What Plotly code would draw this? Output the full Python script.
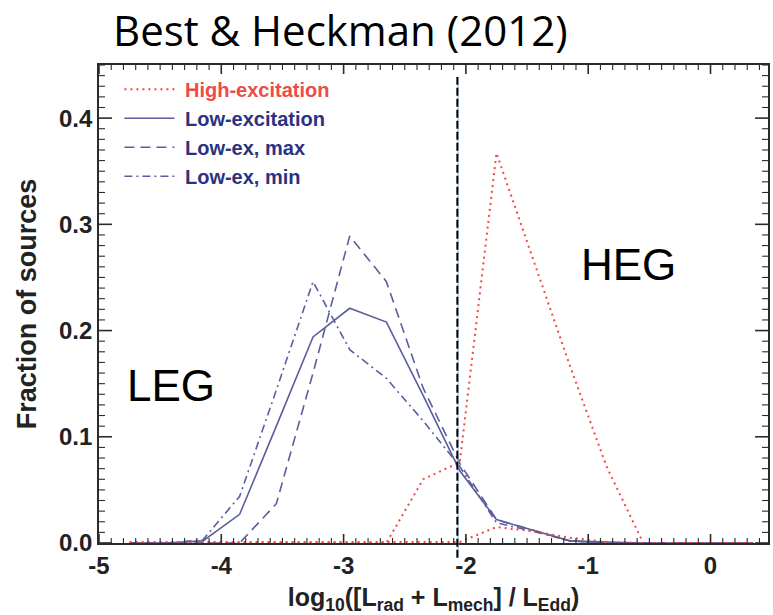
import plotly.graph_objects as go

# Bin centres of the Eddington-scaled luminosity histogram
log_edd = [-4.75, -4.45, -4.15, -3.85, -3.55, -3.25, -2.95, -2.65, -2.35,
           -2.05, -1.75, -1.45, -1.15, -0.85, -0.55, -0.25, 0.05, 0.35]

# Fraction of sources per bin
high_exc = [0.0, 0.0, 0.0, 0.0, 0.0, 0.0, 0.0, 0.0, 0.060,
            0.076, 0.367, 0.267, 0.167, 0.072, 0.0, 0.0, 0.0, 0.0]
high_exc_faint = [0.001, 0.001, 0.001, 0.001, 0.001, 0.001, 0.001, 0.001, 0.001,
                  0.001, 0.015, 0.011, 0.005, 0.001, 0.0, 0.0, 0.0, 0.0]
low_exc = [0.0, 0.0, 0.002, 0.027, 0.110, 0.194, 0.221, 0.208, 0.139,
           0.068, 0.022, 0.012, 0.002, 0.001, 0.0, 0.0, 0.0, 0.0]
low_exc_max = [0.0, 0.0, 0.0, 0.0, 0.037, 0.160, 0.289, 0.246, 0.146,
               0.075, 0.022, 0.012, 0.002, 0.0, 0.0, 0.0, 0.0, 0.0]
low_exc_min = [0.0, 0.0, 0.003, 0.044, 0.144, 0.246, 0.182, 0.155, 0.115,
               0.072, 0.019, 0.011, 0.002, 0.0, 0.0, 0.0, 0.0, 0.0]

divide_x = -2.07

x_range = [-5, 0.47]
y_range = [0, 0.45]
x_ticks = [-5, -4, -3, -2, -1, 0]
x_tick_text = ["<b>-5</b>", "<b>-4</b>", "<b>-3</b>", "<b>-2</b>", "<b>-1</b>", "<b>0</b>"]
y_ticks = [0.0, 0.1, 0.2, 0.3, 0.4]
y_tick_text = ["<b>0.0</b>", "<b>0.1</b>", "<b>0.2</b>", "<b>0.3</b>", "<b>0.4</b>"]
x_minor_step = 0.1
y_minor_step = 0.01

RED = "#ee4b46"
BLUE = "#5a5e9c"
NAVY = "#2c3282"
AXIS = "#2a2a2a"
SANS = "Liberation Sans, Arial, Helvetica"

W, H = 773, 615
M = dict(l=99, r=3, t=65, b=72)
PW = W - M["l"] - M["r"]
PH = H - M["t"] - M["b"]

legend_names = [("High-excitation", RED), ("Low-excitation", NAVY),
                ("Low-ex, max", NAVY), ("Low-ex, min", NAVY)]


def label(i):
    text, col = legend_names[i]
    return f'&nbsp;<b><span style="color:{col}">{text}</span></b>'


fig = go.Figure()

fig.add_trace(go.Scatter(
    x=log_edd, y=high_exc, mode="lines", name=label(0),
    line=dict(color=RED, width=2, dash="2px,4px"),
))
fig.add_trace(go.Scatter(
    x=log_edd, y=low_exc, mode="lines", name=label(1),
    line=dict(color=BLUE, width=1.6),
))
fig.add_trace(go.Scatter(
    x=log_edd, y=low_exc_max, mode="lines", name=label(2),
    line=dict(color=BLUE, width=1.6, dash="10px,6px"),
))
fig.add_trace(go.Scatter(
    x=log_edd, y=low_exc_min, mode="lines", name=label(3),
    line=dict(color=BLUE, width=1.6, dash="8px,4px,2px,4px"),
))
fig.add_trace(go.Scatter(
    x=log_edd, y=high_exc_faint, mode="lines", showlegend=False,
    line=dict(color=RED, width=2, dash="2px,4px"),
))


# IDL-style inward tick marks on all four sides of the frame
def x_tick_marks(values, length_px):
    dy = length_px / PH * (y_range[1] - y_range[0])
    xs, ys = [], []
    for v in values:
        xs += [v, v, None, v, v, None]
        ys += [y_range[0], y_range[0] + dy, None, y_range[1], y_range[1] - dy, None]
    return xs, ys


def y_tick_marks(values, length_px):
    dx = length_px / PW * (x_range[1] - x_range[0])
    xs, ys = [], []
    for v in values:
        xs += [x_range[0], x_range[0] + dx, None, x_range[1], x_range[1] - dx, None]
        ys += [v, v, None, v, v, None]
    return xs, ys


n_xminor = int(round((x_range[1] - x_range[0]) / x_minor_step))
x_minor = [round(x_range[0] + i * x_minor_step, 3) for i in range(n_xminor + 1)]
x_minor = [v for v in x_minor if v <= x_range[1] and v not in x_ticks]
n_yminor = int(round((y_range[1] - y_range[0]) / y_minor_step))
y_minor = [round(y_range[0] + i * y_minor_step, 3) for i in range(n_yminor + 1)]
y_minor = [v for v in y_minor if all(abs(v - t) > 1e-9 for t in y_ticks)]

for (xs, ys), w in [(x_tick_marks(x_ticks, 9), 1.6), (x_tick_marks(x_minor, 5), 1.1),
                    (y_tick_marks(y_ticks, 13), 1.6), (y_tick_marks(y_minor, 6), 1.1)]:
    fig.add_trace(go.Scatter(x=xs, y=ys, mode="lines", showlegend=False,
                             hoverinfo="skip", line=dict(color=AXIS, width=w)))

# HEG / LEG dividing line
fig.add_shape(type="line", xref="x", yref="paper",
              x0=divide_x + 0.006, x1=divide_x + 0.006, y0=-0.031, y1=0.975,
              line=dict(color="#8fb8e6", width=1))
fig.add_shape(type="line", xref="x", yref="paper",
              x0=divide_x, x1=divide_x, y0=-0.031, y1=0.975,
              line=dict(color="black", width=2, dash="8px,3px"))

fig.add_annotation(x=-4.41, y=0.1486, text="LEG", showarrow=False,
                   font=dict(family=SANS, size=44, color="black"))
fig.add_annotation(x=-0.673, y=0.2625, text="HEG", showarrow=False,
                   font=dict(family=SANS, size=44, color="black"))
fig.add_annotation(xref="paper", yref="paper", x=0.361, y=1.0753,
                   xanchor="center", yanchor="middle",
                   text="Best &amp; Heckman (2012)", showarrow=False,
                   font=dict(family="Open Sans", size=42, color="black"))

tick_font = dict(family=SANS, size=24, color="#222222")

fig.update_xaxes(
    range=x_range, tickvals=x_ticks, ticktext=x_tick_text,
    ticks="inside", ticklen=5, tickcolor="rgba(0,0,0,0)",
    showline=True, linecolor=AXIS, linewidth=1.6, mirror=True,
    showgrid=False, zeroline=False, tickfont=tick_font,
    title=dict(text="<b>log<sub>10</sub>([L<sub>rad</sub> + L<sub>mech</sub>] / L<sub>Edd</sub>)</b>",
               font=dict(family=SANS, size=25, color="#222222"),
               standoff=12),
)
fig.update_yaxes(
    range=y_range, tickvals=y_ticks, ticktext=y_tick_text,
    ticks="inside", ticklen=13, tickcolor="rgba(0,0,0,0)",
    showline=True, linecolor=AXIS, linewidth=1.6, mirror=True,
    showgrid=False, zeroline=False, tickfont=tick_font,
    title=dict(text="<b>Fraction of sources</b>",
               font=dict(family=SANS, size=27, color="#222222"),
               standoff=15),
)

fig.update_layout(
    width=W, height=H,
    margin=M,
    plot_bgcolor="white", paper_bgcolor="white",
    legend=dict(x=0.0305, y=0.99, xanchor="left", yanchor="top",
                itemwidth=50, bgcolor="rgba(0,0,0,0)",
                font=dict(family=SANS, size=20)),
)

fig.write_html("out.html")
